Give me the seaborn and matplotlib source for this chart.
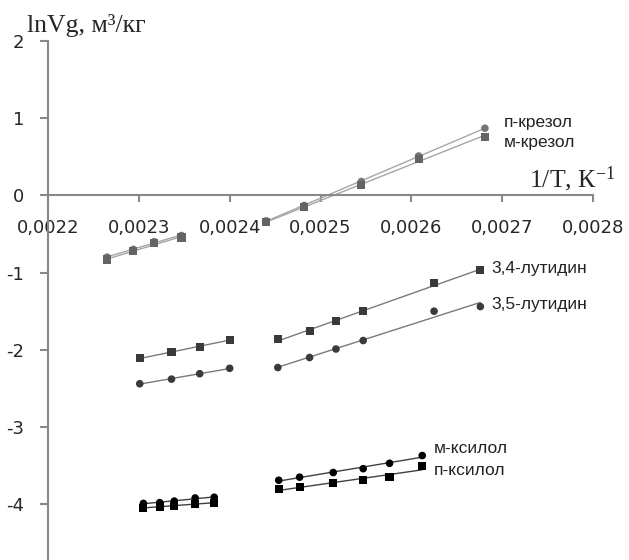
import numpy as np
import matplotlib
matplotlib.use('Agg')
import matplotlib.pyplot as plt
import seaborn as sns

# значения: 1/T (К^-1) и lnVg, два участка температур на каждое вещество
x_cres_1 = [0.002265, 0.002294, 0.002317, 0.002347]
x_cres_2 = [0.002440, 0.002482, 0.002545, 0.002608, 0.002681]
p_cresol_1 = [-0.80, -0.70, -0.60, -0.52]
p_cresol_2 = [-0.33, -0.13, 0.18, 0.51, 0.87]
m_cresol_1 = [-0.83, -0.725, -0.62, -0.545]
m_cresol_2 = [-0.35, -0.155, 0.14, 0.47, 0.76]

x_lut_1 = [0.002301, 0.002336, 0.002367, 0.002400]
x_lut_2 = [0.002453, 0.002488, 0.002517, 0.002547, 0.002625, 0.002676]
lut34_1 = [-2.11, -2.03, -1.96, -1.87]
lut34_2 = [-1.865, -1.76, -1.63, -1.50, -1.14, -0.97]
lut35_1 = [-2.44, -2.38, -2.31, -2.24]
lut35_2 = [-2.23, -2.10, -1.99, -1.88, -1.50, -1.44]

x_xyl_1 = [0.002305, 0.002323, 0.002339, 0.002362, 0.002383]
x_xyl_2 = [0.002454, 0.002477, 0.002514, 0.002547, 0.002576, 0.002612]
m_xylol_1 = [-3.99, -3.98, -3.96, -3.92, -3.91]
m_xylol_2 = [-3.69, -3.65, -3.59, -3.54, -3.47, -3.37]
p_xylol_1 = [-4.05, -4.03, -4.02, -4.00, -3.98]
p_xylol_2 = [-3.80, -3.78, -3.73, -3.69, -3.65, -3.51]

x_ticks = [0.0022, 0.0023, 0.0024, 0.0025, 0.0026, 0.0027, 0.0028]
x_tick_labels = ['0,0022', '0,0023', '0,0024', '0,0025', '0,0026', '0,0027', '0,0028']
y_ticks = [-4, -3, -2, -1, 0, 1, 2]
y_tick_labels = ['-4', '-3', '-2', '-1', '0', '1', '2']

# (название, участки, маркер, цвет маркера, цвет линии, смещение подписи в пикселях)
series = [
    ('п-крезол', [(x_cres_1, p_cresol_1), (x_cres_2, p_cresol_2)], 'o', '#767676', '#a6a6a6', (19, 6)),
    ('м-крезол', [(x_cres_1, m_cresol_1), (x_cres_2, m_cresol_2)], 's', '#646464', '#a6a6a6', (19, -6)),
    ('3,4-лутидин', [(x_lut_1, lut34_1), (x_lut_2, lut34_2)], 's', '#3a3a3a', '#7a7a7a', (11, 2)),
    ('3,5-лутидин', [(x_lut_1, lut35_1), (x_lut_2, lut35_2)], 'o', '#3a3a3a', '#7a7a7a', (11, 2)),
    ('м-ксилол', [(x_xyl_1, m_xylol_1), (x_xyl_2, m_xylol_2)], 'o', '#000000', '#404040', (12, 7)),
    ('п-ксилол', [(x_xyl_1, p_xylol_1), (x_xyl_2, p_xylol_2)], 's', '#000000', '#404040', (12, -4)),
]

sns.set_style('white')
plt.rcParams['font.family'] = ['DejaVu Sans']
plt.rcParams['axes.unicode_minus'] = False
plt.rcParams['mathtext.fontset'] = 'custom'
plt.rcParams['mathtext.rm'] = 'Liberation Serif'
plt.rcParams['mathtext.it'] = 'Liberation Serif'

fig = plt.figure(figsize=(6.29, 5.6), dpi=100)
ax = fig.add_axes([0.0763, 0.0018, 0.8665, 0.925])

for name, segs, marker, mcolor, lcolor, offset in series:
    for xs, ys in segs:
        # линии тренда по каждому участку (линейная аппроксимация, как в Excel)
        sns.regplot(x=np.array(xs), y=np.array(ys), ax=ax, ci=None, truncate=True,
                    marker=marker,
                    scatter_kws={'s': 34 if marker == 's' else 30, 'color': mcolor,
                                 'edgecolors': 'none', 'alpha': 1, 'zorder': 3},
                    line_kws={'color': lcolor, 'linewidth': 1.0, 'zorder': 2})
    last_x, last_y = segs[-1][0][-1], segs[-1][1][-1]
    ax.annotate(name, xy=(last_x, last_y), xytext=offset, textcoords='offset pixels',
                ha='left', va='center', fontsize=12.5, family='Liberation Sans', color='#222222')

ax.set_xlim(0.0022, 0.0028)
ax.set_ylim(-4.71, 2)
ax.set_xticks(x_ticks)
ax.set_xticklabels(x_tick_labels)
ax.set_yticks(y_ticks)
ax.set_yticklabels(y_tick_labels)

axis_color = '#888888'
for side in ['top', 'right']:
    ax.spines[side].set_visible(False)
ax.spines['bottom'].set_position(('data', 0))
ax.spines['left'].set_position(('data', 0.0022))
for side in ['bottom', 'left']:
    ax.spines[side].set_color(axis_color)
    ax.spines[side].set_linewidth(1.5)

ax.tick_params(axis='x', direction='out', length=5, width=1.5, color=axis_color,
               labelsize=13, pad=12, bottom=True)
ax.tick_params(axis='y', direction='out', length=6, width=1.5, color=axis_color,
               labelsize=13, pad=11, left=True)
ax.grid(False)

# подписи осей в стиле оригинала
fig.text(27 / 629, 1 - 32 / 560, 'lnVg, м³/кг', family='Liberation Serif', fontsize=18.5,
         ha='left', va='baseline')
fig.text(615 / 629, 1 - 187 / 560, '1/T, К$^{\\mathrm{-1}}$', family='Liberation Serif', fontsize=18.5,
         ha='right', va='baseline')

plt.savefig('out.png', dpi=100)
plt.close(fig)
